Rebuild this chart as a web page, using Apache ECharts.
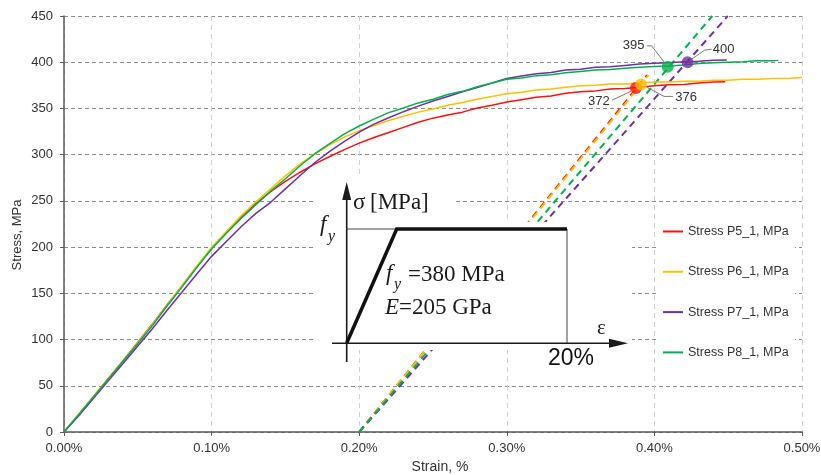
<!DOCTYPE html>
<html><head><meta charset="utf-8">
<script src="https://cdn.jsdelivr.net/npm/echarts@6/dist/echarts.min.js"></script>
<style>html,body{margin:0;padding:0;background:#fff}#c{width:821px;height:475px}</style>
</head><body><div id="c"></div>
<script>
// ---- data ----
const strain = [0.00,0.01,0.02,0.03,0.04,0.05,0.06,0.07,0.08,0.09,0.10,0.11,0.12,0.13,0.14,0.15,0.16,0.17,0.18,0.19,0.20,
  0.21,0.22,0.23,0.24,0.25,0.26,0.27,0.28,0.29,0.30,0.31,0.32,0.33,0.34,0.35,0.36,0.37,0.38,0.39,0.40,
  0.41,0.42,0.43,0.44,0.45,0.46,0.47,0.48,0.49,0.50];
const seriesNames = ['Stress P5_1, MPa','Stress P6_1, MPa','Stress P7_1, MPa','Stress P8_1, MPa'];
const stressP5 = [0,19,38.5,58,77,97,117,138,158,179,199,216,232,247,260,271,281,290,298,305.5,312.5,
  318.5,324,329.5,335,339.5,343,346,350.5,353.5,357,359.5,362,363.5,366.5,368,369,371,371.5,373,374.5,
  375.5,376,377.5,378.5];
const tailP5 = [0.448,379];
const stressP6 = [0,19.5,38.5,57.5,77,96.5,116.5,137.5,158.5,179.5,199.5,217,234,249,263,277,290,301,310.5,319,326,
  331.5,337,341.5,346,349.5,353.5,356.5,360,363,366,367.5,370,371,373,374.5,375,376.5,376.5,377.5,378.5,
  378.5,379.5,379.5,380.5,380.5,381.5,381.5,382.5,382.5,383.5];
const tailP6 = null;
const stressP7 = [0,17.5,36.5,55.5,74,93,112,132,151.5,171,190,206,222,236.5,248.5,263,277.5,291.5,303.5,314.5,324.5,
  333,340,346.5,352.5,358,363,368,372.5,377.5,382.5,385,387.5,389,391.5,392.5,394.5,395,396.5,398,399,
  399.5,400.5,401,402];
const tailP7 = [0.449,402.5];
const stressP8 = [0,19,38,57,76.5,95.5,115.5,136.5,157,178,198,215,231,246,260.5,274,288,301,312,322.5,331,
  338.5,345.5,350.5,356,360,365,368.5,373.5,377.5,381.5,383,385.5,386.5,388.5,390,391.5,392,393.5,394.5,395.5,
  396,397,398.5,399.5,400,400.5,401.5,401.5];
const tailP8 = [0.484,402];
// 0.2% offset lines (one per specimen P5..P8): start and end points
const offsetStart = [0.20,0];
const offsetEnd = [[0.395,386],[0.396,386],[0.4497,450],[0.4392,450]];
// intersection points (specimen index into P5..P8)
const pointSpecimen = [0,1,3,2];
const pointStrain = [0.3875,0.391,0.409,0.4225];
const pointStress = [372,376,395,400];
const pointLabels = ['372','376','395','400'];
// axis ticks
const xTicks = {min:0,max:0.5,step:0.1};
const yTicks = {min:0,max:450,step:50};

const colors = ['#ff1010','#ffc000','#7030a0','#00b050'];
const stressArrays = [stressP5,stressP6,stressP7,stressP8];
const tails = [tailP5,tailP6,tailP7,tailP8];

function curve(i){
  const d = stressArrays[i].map((v,k)=>[strain[k],v]);
  if (tails[i]) d.push(tails[i]);
  return d;
}

const chart = echarts.init(document.getElementById('c'), null, {renderer:'canvas'});
const SANS = 'Liberation Sans, Arial, sans-serif';
const SERIF = 'Liberation Serif, Times New Roman, serif';

const series = [];
for (let i=0;i<4;i++){
  series.push({type:'line', name:'off'+i, data:[offsetStart, offsetEnd[i]], showSymbol:false, silent:true, z:2,
    lineStyle:{color:colors[i], width:2, type:[7,5]}});
}
for (let i=0;i<4;i++){
  series.push({type:'line', name:seriesNames[i], data:curve(i), showSymbol:false, symbol:'none', z:3,
    lineStyle:{color:colors[i], width:1.5}, itemStyle:{color:colors[i]}});
}
series.push({type:'scatter', name:'points', z:8, symbolSize:12,
  data: pointStrain.map((s,i)=>({value:[s,pointStress[i]], itemStyle:{color:colors[pointSpecimen[i]]}}))});

const grid = {left:64, right:19, top:16, bottom:43, containLabel:false, outerBoundsMode:'none'};

// inset (pasted diagram)
const INK = '#1a1a1a';
const inset = [
  {type:'rect', id:'w1', z:5, shape:{x:314,y:178,width:140,height:172}, style:{fill:'#fff'}},
  {type:'rect', id:'w2', z:5, shape:{x:452,y:222,width:180,height:128}, style:{fill:'#fff'}},
  {type:'polyline', id:'fyline', z:6, shape:{points:[[346.7,229],[567,229],[567,343]]}, style:{stroke:'#444',lineWidth:1,fill:null}},
  {type:'polyline', id:'yax', z:6, shape:{points:[[346.7,362],[346.7,196]]}, style:{stroke:INK,lineWidth:1.6,fill:null}},
  {type:'polygon', id:'yarr', z:6, shape:{points:[[346.7,182],[342.2,200],[351.2,200]]}, style:{fill:INK}},
  {type:'polyline', id:'xax', z:6, shape:{points:[[332,343.3],[612,343.3]]}, style:{stroke:INK,lineWidth:1.6,fill:null}},
  {type:'polygon', id:'xarr', z:6, shape:{points:[[628,343.3],[609,338.8],[609,347.8]]}, style:{fill:INK}},
  {type:'polyline', id:'thick', z:6, shape:{points:[[346.7,343],[396.7,229],[567,229]]}, style:{stroke:'#111',lineWidth:3.5,fill:null,lineJoin:'miter'}},
  {type:'text', id:'sig', z:6, x:353, y:203, style:{text:'σ\u2009[MPa]', fill:INK, font:'23px '+SERIF, textVerticalAlign:'middle', verticalAlign:'middle'}},
  {type:'text', id:'fy1', z:6, x:320, y:225, style:{text:'f', fill:INK, font:'italic 23px '+SERIF, textVerticalAlign:'middle', verticalAlign:'middle'}},
  {type:'text', id:'fy1s', z:6, x:328, y:237, style:{text:'y', fill:INK, font:'italic 16px '+SERIF, textVerticalAlign:'middle', verticalAlign:'middle'}},
  {type:'text', id:'fy2', z:6, x:386, y:274, style:{text:'f', fill:INK, font:'italic 23px '+SERIF, textVerticalAlign:'middle', verticalAlign:'middle'}},
  {type:'text', id:'fy2s', z:6, x:394, y:285, style:{text:'y', fill:INK, font:'italic 16px '+SERIF, textVerticalAlign:'middle', verticalAlign:'middle'}},
  {type:'text', id:'fyv', z:6, x:408, y:275, style:{text:'=380 MPa', fill:INK, font:'23px '+SERIF, textVerticalAlign:'middle', verticalAlign:'middle'}},
  {type:'text', id:'E1', z:6, x:385, y:308, style:{text:'E', fill:INK, font:'italic 23px '+SERIF, textVerticalAlign:'middle', verticalAlign:'middle'}},
  {type:'text', id:'Ev', z:6, x:399, y:308, style:{text:'=205 GPa', fill:INK, font:'23px '+SERIF, textVerticalAlign:'middle', verticalAlign:'middle'}},
  {type:'text', id:'eps', z:6, x:597, y:328, style:{text:'ε', fill:INK, font:'21px '+SERIF, textVerticalAlign:'middle', verticalAlign:'middle'}},
  {type:'text', id:'p20', z:6, x:548, y:359, style:{text:'20%', fill:'#111', font:'23px '+SANS, textVerticalAlign:'middle', verticalAlign:'middle'}},
  {type:'text', id:'yname', z:6, x:17, y:235, rotation:Math.PI/2, style:{text:'Stress, MPa', fill:'#333', font:'13px '+SANS, textAlign:'center', align:'center', textVerticalAlign:'middle', verticalAlign:'middle'}}
];

const option = {
  animation:false,
  backgroundColor:'#fff',
  grid: grid,
  legend: {
    data: seriesNames, orient:'vertical', left:658, top:212,
    padding:[12,6,12,5], backgroundColor:'#fff', icon:'rect', itemWidth:20, itemHeight:2, itemGap:25.3,
    textStyle:{fontSize:12.5, fontFamily:SANS, color:'#333', lineHeight:15}
  },
  xAxis: {
    type:'value', min:xTicks.min, max:xTicks.max, interval:xTicks.step,
    name:'Strain, %', nameLocation:'middle', nameGap:26,
    nameTextStyle:{fontSize:14, fontFamily:SANS, color:'#333', padding:[0,0,0,14]},
    axisLine:{show:true, lineStyle:{color:'#595959', width:1.5}},
    axisTick:{show:true, length:4, lineStyle:{color:'#595959'}},
    axisLabel:{margin:10, fontSize:13, fontFamily:SANS, color:'#333', formatter:v=>v.toFixed(2)+'%'},
    splitLine:{show:true, lineStyle:{color:'#cfcfcf', type:[5,4], width:1}}
  },
  yAxis: {
    type:'value', min:yTicks.min, max:yTicks.max, interval:yTicks.step,
    axisLine:{show:true, lineStyle:{color:'#595959', width:1.5}},
    axisTick:{show:true, length:4, lineStyle:{color:'#595959'}},
    axisLabel:{margin:11, fontSize:13, fontFamily:SANS, color:'#333'},
    splitLine:{show:true, lineStyle:{color:'#8c8c8c', type:[4,3], width:1}}
  },
  graphic: inset,
  series: series
};
chart.setOption(option);

// annotation labels (offsets are layout in px relative to the data points)
const annLayout = [
  {text:[-37,13], line:[[-24,12],[-13,7],[-5,3]]},
  {text:[45,13], line:[[32,12],[23,12],[6,3]]},
  {text:[-34,-21], line:[[-21,-21],[-16,-21],[-3,-4]]},
  {text:[36,-13], line:[[24,-13],[17,-12],[4,-3]]}
];
const ann = [];
for (let i=0;i<4;i++){
  const p = chart.convertToPixel({gridIndex:0}, [pointStrain[i], pointStress[i]]);
  const L = annLayout[i];
  ann.push({type:'polyline', id:'ll'+i, z:9, shape:{points:L.line.map(q=>[p[0]+q[0],p[1]+q[1]])}, style:{stroke:'#777',lineWidth:1,fill:null}});
  ann.push({type:'text', id:'lt'+i, z:9, x:p[0]+L.text[0], y:p[1]+L.text[1],
    style:{text:pointLabels[i], fill:'#333', font:'13px '+SANS, textAlign:'center', align:'center', textVerticalAlign:'middle', verticalAlign:'middle'}});
}
chart.setOption({graphic: inset.concat(ann)});
</script>
</body></html>
